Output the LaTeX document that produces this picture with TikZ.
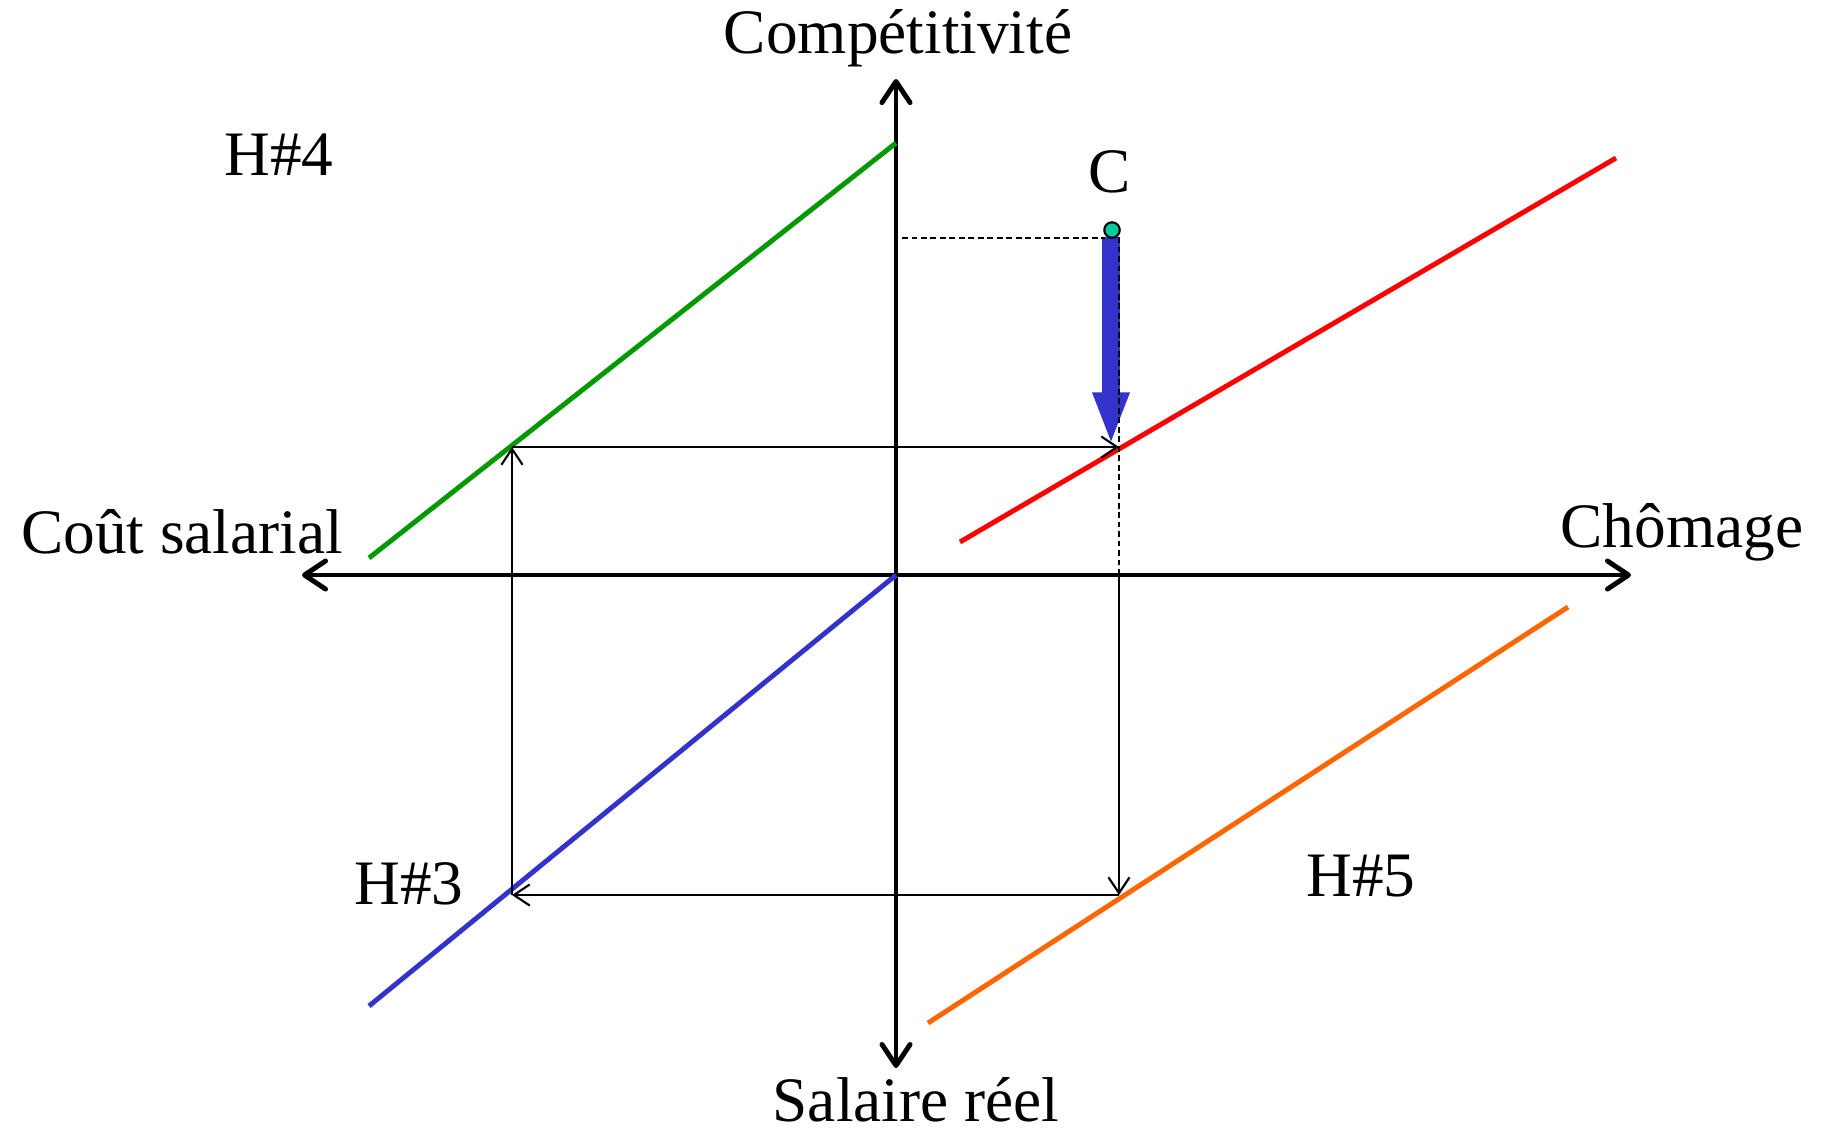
\documentclass[tikz,border=0pt]{standalone}
\usepackage{fontspec}
\setmainfont{Liberation Serif}
\usetikzlibrary{arrows.meta}
\definecolor{hgreen}{HTML}{009900}
\definecolor{hred}{HTML}{FF0000}
\definecolor{hblue}{HTML}{3333CC}
\definecolor{horange}{HTML}{FF6600}
\definecolor{cdot}{HTML}{00CC99}

\begin{document}
\begin{tikzpicture}[
  x=0.01cm,y=-0.01cm,
  axis/.style={line width=1.4pt,-{Straight Barb[round,length=6pt,width=8pt]}},
  curve/.style={line width=1.4pt},
  link/.style={line width=0.6pt,-{Straight Barb[length=4.5pt,width=6pt]}},
  guide/.style={line width=0.6pt,dash pattern=on 1.6pt off 1.1pt},
  lbl/.style={font=\fontsize{18}{22}\selectfont,inner sep=0pt}
]
\useasboundingbox (0,0) rectangle (1824,1132);
% axes
\coordinate (O) at (896,575);
\coordinate (top) at (896,79);
\coordinate (bot) at (896,1068);
\coordinate (lft) at (302,575);
\coordinate (rgt) at (1631,575);
\draw[axis] (O) -- (top);
\draw[axis] (O) -- (bot);
\draw[axis] (O) -- (lft);
\draw[axis] (O) -- (rgt);
\node[lbl] (comp) at (898,38) {Compétitivité};
\node[lbl] (cout) at (182,532) {Coût salarial};
\node[lbl] (chom) at (1682,532) {Chômage};
\node[lbl] (sal) at (916,1100) {Salaire réel};
% relations
\coordinate (g1) at (369,558);
\coordinate (g2) at (896,143);
\coordinate (r1) at (960,542);
\coordinate (r2) at (1616,158);
\coordinate (b1) at (369,1006);
\coordinate (o1) at (928,1023);
\coordinate (o2) at (1568,607);
\draw[curve,hgreen] (g1) -- (g2);
\draw[curve,hred] (r1) -- (r2);
\draw[curve,hblue] (b1) -- (O);
\draw[curve,horange] (o1) -- (o2);
\node[lbl] (h4) at (279,155) {H\#4};
\node[lbl] (h3) at (409,884) {H\#3};
\node[lbl] (h5) at (1361,876) {H\#5};
% loop
\coordinate (p1) at (512,447);
\coordinate (p2) at (1119,447);
\coordinate (p3) at (1119,895);
\coordinate (p4) at (512,895);
\coordinate (ax) at (1119,575);
\draw[link] (p1) -- (p2);
\draw[link] (ax) -- (p3);
\draw[link] (p3) -- (p4);
\draw[link] (p4) -- (p1);
% shock on C
\coordinate (c) at (1112,230);
\coordinate (cs) at (1111,237);
\coordinate (ce) at (1111,445);
\draw[hblue,line width=5pt,-{Triangle[length=15pt,width=9.5pt]}] (cs) -- (ce);
\coordinate (cy) at (902,238);
\coordinate (cx) at (1105,238);
\coordinate (cv) at (1119,237);
\draw[guide] (cy) -- (cx);
\draw[guide] (cv) -- (ax);
\node[draw,circle,fill=cdot,line width=0.6pt,inner sep=0pt,minimum size=4.4pt] (cpt) at (c) {};
\node[lbl] (clbl) at (1110,172) {C};
\end{tikzpicture}
\end{document}
